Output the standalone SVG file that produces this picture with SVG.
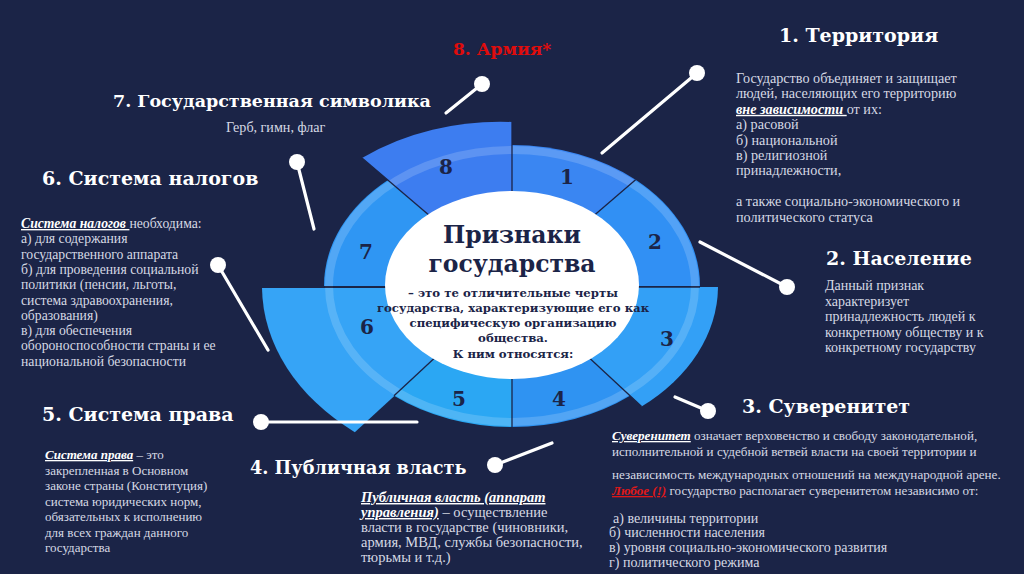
<svg xmlns="http://www.w3.org/2000/svg" width="1024" height="574" viewBox="0 0 1024 574">
<style>
.title{font-family:"DejaVu Serif","Liberation Serif",serif;font-weight:bold;font-size:19px;fill:#ffffff;}
.body{font-family:"Liberation Serif","DejaVu Serif",serif;font-size:13.7px;fill:#d6d9e4;}
.em{font-weight:bold;font-style:italic;fill:#ffffff;text-decoration:underline;}
.red{font-weight:bold;font-style:italic;fill:#e01818;text-decoration:underline;}
.num{font-family:"DejaVu Serif","Liberation Serif",serif;font-weight:bold;font-size:20px;fill:#1b2447;text-anchor:middle;}
.ctr{font-family:"DejaVu Serif","Liberation Serif",serif;font-weight:bold;fill:#1b2447;text-anchor:middle;}
.div{stroke:#1b2447;stroke-width:1.3;fill:none;}
.conn line{stroke:#ffffff;stroke-width:3.2;stroke-linecap:round;}
.conn circle{fill:#ffffff;}
</style>
<rect x="0" y="0" width="1024" height="574" fill="#1b2447"/>

<g id="wheel">
<path d="M512 286 L512 145 A188 141 0 0 1 635.6 179.7 Z" fill="#3a86f2"/>
<path d="M512 286 L635.6 179.7 A188 141 0 0 1 700 286 Z" fill="#3190f4"/>
<path d="M512 287 L718 287 A206 155 0 0 1 641.6 406.5 Z" fill="#33a0f6"/>
<path d="M512 286 L630 395.8 A188 141 0 0 1 512 427 Z" fill="#2f93f2"/>
<path d="M512 286 L512 427 A188 141 0 0 1 394 395.8 Z" fill="#2ba7f3"/>
<path d="M512 288 L354.8 432.2 A250 188 0 0 1 262 288 Z" fill="#36a4f6"/>
<path d="M512 286 L324 286 A188 141 0 0 1 388.4 179.7 Z" fill="#2f96f3"/>
<path d="M512 286 L362 158 A222 166 0 0 1 512 122 Z" fill="#3d7df0"/>
<ellipse cx="512" cy="286" rx="183" ry="136" fill="none" stroke="#ffffff" stroke-opacity="0.17" stroke-width="8"/>
<line class="div" x1="512" y1="122" x2="512" y2="427"/>
<line class="div" x1="323" y1="287" x2="700" y2="287"/>
<line class="div" x1="512" y1="286" x2="362" y2="158"/>
<line class="div" x1="512" y1="286" x2="635.6" y2="179.7"/>
<line class="div" x1="512" y1="286" x2="641.6" y2="406.5"/>
<line class="div" x1="512" y1="286" x2="394" y2="395.8"/>
<ellipse cx="512" cy="285" rx="127" ry="94" fill="#ffffff"/>
<text class="num" x="446" y="174">8</text>
<text class="num" x="567" y="184">1</text>
<text class="num" x="655" y="249">2</text>
<text class="num" x="667" y="346">3</text>
<text class="num" x="559" y="406">4</text>
<text class="num" x="459" y="406">5</text>
<text class="num" x="367" y="334">6</text>
<text class="num" x="366" y="259">7</text>
</g>

<g id="center">
<text class="ctr" x="512" y="243" font-size="23.5">Признаки</text>
<text class="ctr" x="512" y="272" font-size="23.5">государства</text>
<text class="ctr" x="513" y="297" font-size="11.7">– это те отличительные черты</text>
<text class="ctr" x="513" y="312" font-size="11.7">государства, характеризующие его как</text>
<text class="ctr" x="513" y="327" font-size="11.7">специфическую организацию</text>
<text class="ctr" x="513" y="342" font-size="11.7">общества.</text>
<text class="ctr" x="513" y="358" font-size="11.7">К ним относятся:</text>
</g>

<g id="connectors" class="conn">
<line x1="602" y1="153" x2="697" y2="73"/><circle cx="697" cy="73" r="8"/>
<line x1="700" y1="242" x2="787" y2="287"/><circle cx="787" cy="287" r="8"/>
<line x1="675" y1="397" x2="708" y2="411"/><circle cx="708" cy="411" r="8"/>
<line x1="552" y1="443" x2="495" y2="465"/><circle cx="495" cy="465" r="8"/>
<line x1="417" y1="422" x2="261" y2="422"/><circle cx="261" cy="422" r="8"/>
<line x1="268" y1="350" x2="218" y2="265"/><circle cx="218" cy="265" r="8"/>
<line x1="314" y1="229" x2="297" y2="162"/><circle cx="297" cy="162" r="8"/>
<line x1="446" y1="113" x2="482" y2="84"/><circle cx="482" cy="84" r="8"/>
</g>

<g id="n1">
<text class="title" x="779" y="42">1. Территория</text>
<g class="body" style="font-size:14.2px">
<text x="736" y="83">Государство объединяет и защищает</text>
<text x="736" y="98.4">людей, населяющих его территорию</text>
<text x="736" y="113.8"><tspan class="em">вне зависимости </tspan>от их:</text>
<text x="736" y="129.2">а) расовой</text>
<text x="736" y="144.6">б) национальной</text>
<text x="736" y="160">в) религиозной</text>
<text x="736" y="175.4">принадлежности,</text>
<text x="736" y="206.2">а также социально-экономического и</text>
<text x="736" y="221.6">политического статуса</text>
</g>
</g>

<g id="n2">
<text class="title" x="826" y="265">2. Население</text>
<g class="body" style="font-size:14px">
<text x="825" y="290">Данный признак</text>
<text x="825" y="306">характеризует</text>
<text x="825" y="321">принадлежность людей к</text>
<text x="825" y="337">конкретному обществу и к</text>
<text x="825" y="352">конкретному государству</text>
</g>
</g>

<g id="n3">
<text class="title" x="742" y="413">3. Суверенитет</text>
<g class="body" style="font-size:13.1px">
<text x="612" y="440"><tspan class="em">Суверенитет</tspan> означает верховенство и свободу законодательной,</text>
<text x="612" y="456">исполнительной и судебной ветвей власти на своей территории и</text>
<text x="612" y="479">независимость международных отношений на международной арене.</text>
<text x="612" y="495"><tspan class="red">Любое (!)</tspan> государство располагает суверенитетом независимо от:</text>
</g>
<g class="body" style="font-size:14px">
<text x="613" y="523"> а) величины территории</text>
<text x="609" y="537">б) численности населения</text>
<text x="609" y="552">в) уровня социально-экономического развития</text>
<text x="609" y="567">г) политического режима</text>
</g>
</g>

<g id="n4">
<text class="title" x="250" y="474" style="font-size:17.7px">4. Публичная власть</text>
<g class="body" style="font-size:14.5px">
<text x="361" y="502"><tspan class="em">Публичная власть (аппарат</tspan></text>
<text x="361" y="517"><tspan class="em">управления)</tspan> – осуществление</text>
<text x="361" y="532">власти в государстве (чиновники,</text>
<text x="361" y="547">армия, МВД, службы безопасности,</text>
<text x="361" y="562">тюрьмы и т.д.)</text>
</g>
</g>

<g id="n5">
<text class="title" x="42" y="421">5. Система права</text>
<g class="body" style="font-size:13px">
<text x="45" y="459"><tspan class="em">Система права</tspan> – это</text>
<text x="45" y="474.5">закрепленная в Основном</text>
<text x="45" y="490">законе страны (Конституция)</text>
<text x="45" y="505.5">система юридических норм,</text>
<text x="45" y="521">обязательных к исполнению</text>
<text x="45" y="536.5">для всех граждан данного</text>
<text x="45" y="552">государства</text>
</g>
</g>

<g id="n6">
<text class="title" x="42" y="185">6. Система налогов</text>
<g class="body">
<text x="21" y="228"><tspan class="em">Система налогов </tspan>необходима:</text>
<text x="21" y="243.3">а) для содержания</text>
<text x="21" y="258.6">государственного аппарата</text>
<text x="21" y="273.9">б) для проведения социальной</text>
<text x="21" y="289.2">политики (пенсии, льготы,</text>
<text x="21" y="304.5">система здравоохранения,</text>
<text x="21" y="319.8">образования)</text>
<text x="21" y="335.1">в) для обеспечения</text>
<text x="21" y="350.4">обороноспособности страны и ее</text>
<text x="21" y="365.7">национальной безопасности</text>
</g>
</g>

<g id="n7">
<text class="title" x="113" y="107" style="font-size:17.5px">7. Государственная символика</text>
<text class="body" x="226" y="132" style="font-size:14.1px">Герб, гимн, флаг</text>
</g>

<g id="n8">
<text class="title" x="453" y="55" style="font-size:17px;fill:#e00c0c">8. Армия*</text>
</g>
</svg>
